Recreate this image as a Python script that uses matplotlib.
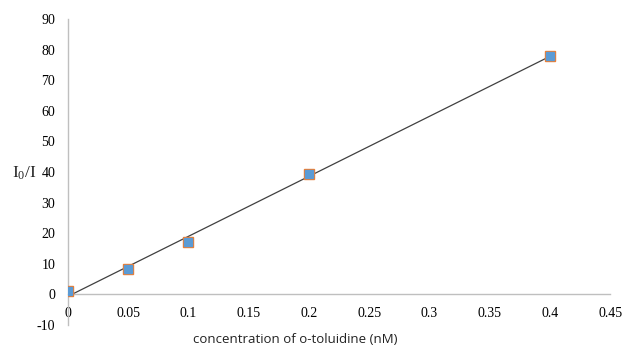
import numpy as np
import matplotlib
matplotlib.use("Agg")
import matplotlib.pyplot as plt

conc = [0.0, 0.05, 0.1, 0.2, 0.4]
ratio = [1.0, 8.3, 17.2, 39.2, 78.0]
xticks = [0, 0.05, 0.1, 0.15, 0.2, 0.25, 0.3, 0.35, 0.4, 0.45]
xticklabels = ["0", "0.05", "0.1", "0.15", "0.2", "0.25", "0.3", "0.35", "0.4", "0.45"]
yticks = [-10, 0, 10, 20, 30, 40, 50, 60, 70, 80, 90]

plt.rcParams['mathtext.default'] = 'regular'
plt.rcParams['font.family'] = ['Liberation Serif', 'DejaVu Serif']

fig = plt.figure(figsize=(6.22, 3.52), dpi=100)
ax = fig.add_axes([0.109, 0.077, 0.872, 0.869])

slope, intercept = np.polyfit(conc, ratio, 1)
xl = np.array([min(conc), max(conc)])
ax.plot(xl, slope * xl + intercept, color='#404040', lw=0.9, zorder=2)
ax.plot(conc, ratio, ls='none', marker='s', ms=6.5, mfc='#ED7D31', mec='#ED7D31', zorder=3)
ax.plot(conc, ratio, ls='none', marker='s', ms=5.5, mfc='#5B9BD5', mec='#5B9BD5', zorder=4)

ax.set_xlim(0, 0.45)
ax.set_ylim(-10, 90)
ax.set_xticks(xticks)
ax.set_xticklabels(xticklabels, fontfamily='Liberation Serif', fontsize=10.5, color='#404040')
ax.set_yticks(yticks)
ax.set_yticklabels([str(v) for v in yticks], fontfamily='Liberation Serif', fontsize=10.5, color='#404040')

for s in ['top', 'right']:
    ax.spines[s].set_visible(False)
ax.spines['left'].set_position(('data', 0))
ax.spines['bottom'].set_position(('data', 0))
for s in ['left', 'bottom']:
    ax.spines[s].set_color('#BFBFBF')
    ax.spines[s].set_linewidth(1.0)

ax.tick_params(length=0)
ax.tick_params(axis='x', pad=9)
ax.tick_params(axis='y', pad=9)

fig.text(0.019, 0.509, r'I$_0$/I', fontfamily='Liberation Serif', fontsize=12.5,
         color='#222222', ha='left', va='center')
fig.text(0.475, 0.036, 'concentration of o-toluidine (nM)', fontfamily='Open Sans',
         fontsize=9.5, color='#222222', ha='center', va='center')

fig.savefig('out.png', dpi=100)
